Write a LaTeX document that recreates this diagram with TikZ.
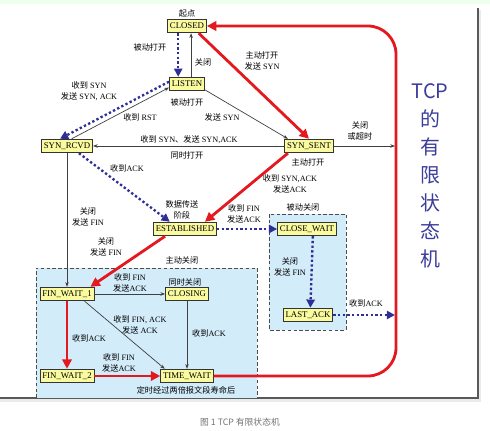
\documentclass[tikz,border=0pt]{standalone}
\usepackage{fontspec}
\setmainfont{Liberation Serif}
\newfontfamily\cjk{Noto Sans CJK SC}
\usetikzlibrary{arrows.meta,positioning,calc}
\definecolor{boxyellow}{HTML}{FAFA9E}
\definecolor{tcpred}{HTML}{E3191F}
\definecolor{tcpblue}{HTML}{2E2E96}
\definecolor{zonefill}{HTML}{D2ECFA}
\definecolor{titleblue}{HTML}{3C3C9A}
\newcommand{\zh}[1]{{\cjk #1}}

\begin{document}
\begin{tikzpicture}[x=0.03cm,y=-0.03cm,
    state/.style={draw=black!80,fill=boxyellow,line width=0.8pt,
      inner xsep=2pt,inner ysep=0pt,minimum height=11.5pt,
      font=\fontsize{7.5}{8}\selectfont},
    lbl/.style={inner sep=0pt,align=center,font=\fontsize{7}{9.5}\selectfont},
    thinflow/.style={draw=black!75,line width=0.6pt,-{Stealth[length=4pt,width=3pt]}},
    redflow/.style={draw=tcpred,line width=2.4pt,-{Triangle[length=8pt,width=8pt]}},
    blueflow/.style={draw=tcpblue,line width=2pt,dash pattern=on 2pt off 2pt,
      -{Triangle[length=7pt,width=7pt]}},
    zone/.style={draw=black!70,fill=zonefill,line width=0.8pt,dash pattern=on 3pt off 2pt}]
  \useasboundingbox (0,0) rectangle (490,431);
  % page background and frame
  \fill[green!7] (0,0) rectangle (490,4);
  \fill[black!8] (0,399) rectangle (481,402);
  \fill[black!8] (478,10) rectangle (481,402);
  \draw[black!65,line width=1pt] (0,398) -- (478,398) -- (478,8);
  % closing zones
  \draw[zone] (36,398) -- (36,268) -- (257,268) -- (257,398);
  \draw[zone] (269,214) rectangle (346,330);

  % states
  \node[state] (closed) at (187,26) {CLOSED};
  \node[state] (listen) at (187,84) {LISTEN};
  \node[state] (synrcvd) at (67,146) {SYN\_RCVD};
  \node[state] (synsent) at (309,146) {SYN\_SENT};
  \node[state] (estab) at (185,229) {ESTABLISHED};
  \node[state] (closewait) at (307,229) {CLOSE\_WAIT};
  \node[state] (lastack) at (308,315) {LAST\_ACK};
  \node[state] (finwait1) at (67,294) {FIN\_WAIT\_1};
  \node[state] (closing) at (187,294) {CLOSING};
  \node[state] (finwait2) at (67,376) {FIN\_WAIT\_2};
  \node[state] (timewait) at (187,376) {TIME\_WAIT};
  \coordinate (loopA) at (395,146);
  \coordinate (loopB) at (395,315);

  % labels
  \node[lbl] (lStart) at (187,13) {\zh{起点}};
  \node[lbl] (lPassOpen) at (150,47) {\zh{被动打开}};
  \node[lbl] (lCloseA) at (203,62) {\zh{关闭}};
  \node[lbl] (lActOpen) at (262,61) {\zh{主动打开}\\\zh{发送} SYN};
  \node[lbl] (lRcvSyn) at (89,91) {\zh{收到} SYN\\\zh{发送} SYN, ACK};
  \node[lbl] (lPassOpenB) at (187,102) {\zh{被动打开}};
  \node[lbl] (lRst) at (140,117) {\zh{收到} RST};
  \node[lbl] (lSendSyn) at (222,117) {\zh{发送} SYN};
  \node[lbl] (lSimSyn) at (189,140) {\zh{收到} SYN\zh{、}\zh{发送} SYN,ACK};
  \node[lbl] (lSimOpen) at (187,155) {\zh{同时打开}};
  \node[lbl] (lActOpenB) at (308,162) {\zh{主动打开}};
  \node[lbl] (lTimeout) at (360,131) {\zh{关闭}\\\zh{或超时}};
  \node[lbl] (lRcvAckA) at (127,168) {\zh{收到}ACK};
  \node[lbl] (lSynAck) at (290,184) {\zh{收到} SYN,ACK\\\zh{发送}ACK};
  \node[lbl] (lData) at (182,210) {\zh{数据传送}\\\zh{阶段}};
  \node[lbl] (lCloseB) at (88,217) {\zh{关闭}\\\zh{发送} FIN};
  \node[lbl] (lRcvFinA) at (244,214) {\zh{收到} FIN\\\zh{发送}ACK};
  \node[lbl] (lPassClose) at (303,207) {\zh{被动关闭}};
  \node[lbl] (lCloseC) at (106,247) {\zh{关闭}\\\zh{发送} FIN};
  \node[lbl] (lActClose) at (182,260) {\zh{主动关闭}};
  \node[lbl] (lCloseD) at (290,267) {\zh{关闭}\\\zh{发送} FIN};
  \node[lbl] (lRcvFinB) at (130,283) {\zh{收到} FIN\\\zh{发送}ACK};
  \node[lbl] (lSimClose) at (185,282) {\zh{同时关闭}};
  \node[lbl] (lRcvAckB) at (366,303) {\zh{收到}ACK};
  \node[lbl] (lFinAck) at (140,325) {\zh{收到} FIN, ACK\\\zh{发送} ACK};
  \node[lbl] (lRcvAckC) at (89,338) {\zh{收到}ACK};
  \node[lbl] (lRcvAckD) at (209,333) {\zh{收到}ACK};
  \node[lbl] (lRcvFinC) at (119,363) {\zh{收到} FIN\\\zh{发送}ACK};
  \node[lbl] (lTimer) at (186,390) {\zh{定时经过两倍报文段寿命后}};

  % title and caption
  \node[inner sep=0pt,align=center,text=titleblue,
    font=\cjk\fontsize{17}{23.8}\selectfont] (title) at (430,176)
    {TCP\\的\\有\\限\\状\\态\\机};
  \node[inner sep=0pt,text=black!55,font=\cjk\fontsize{7.5}{9}\selectfont]
    (caption) at (240,422) {图\ 1\ TCP\ 有限状态机};

  % transitions
  \draw[blueflow] ([xshift=-7.5pt]closed.south) -- ([xshift=-7.5pt]listen.north);
  \draw[thinflow] ([xshift=3.5pt]listen.north) -- ([xshift=3.5pt]closed.south);
  \draw[redflow] ([xshift=-7pt]closed.south east) -- (synsent.north);
  \draw[blueflow] ([yshift=2pt]listen.west) -- ([xshift=-6pt]synrcvd.north);
  \draw[thinflow] ([xshift=4pt]synrcvd.north) -- ([yshift=-3pt]listen.west);
  \draw[thinflow] ([yshift=-5pt]listen.east) -- ([xshift=-18pt]synsent.north);
  \draw[thinflow] (synsent.west) -- (synrcvd.east);
  \draw[blueflow] ([xshift=-12pt]synrcvd.south east) -- ([xshift=-13pt]estab.north);
  \draw[redflow] ([xshift=-18pt]synsent.south) -- ([xshift=17pt]estab.north);
  \draw[thinflow] (synrcvd.south) -- (finwait1.north);
  \draw[redflow] ([xshift=-17pt]estab.south) -- ([xshift=20pt]finwait1.north);
  \draw[blueflow] (estab.east) -- (closewait.west);
  \draw[blueflow] ([xshift=5pt]closewait.south) -- ([xshift=2pt]lastack.north);
  \draw[thinflow] (finwait1.east) -- (closing.west);
  \draw[redflow] (finwait1.south) -- (finwait2.north);
  \draw[thinflow] ([xshift=15pt]finwait1.south) -- ([xshift=-19pt]timewait.north);
  \draw[thinflow] (closing.south) -- (timewait.north);
  \draw[redflow] (finwait2.east) -- (timewait.west);
  \draw[redflow,rounded corners=24] (timewait.east) -- (396,376) -- (396,26) -- (closed.east);
  \draw[thinflow] (synsent.east) -- (loopA);
  \draw[blueflow] (lastack.east) -- (loopB);
\end{tikzpicture}
\end{document}
